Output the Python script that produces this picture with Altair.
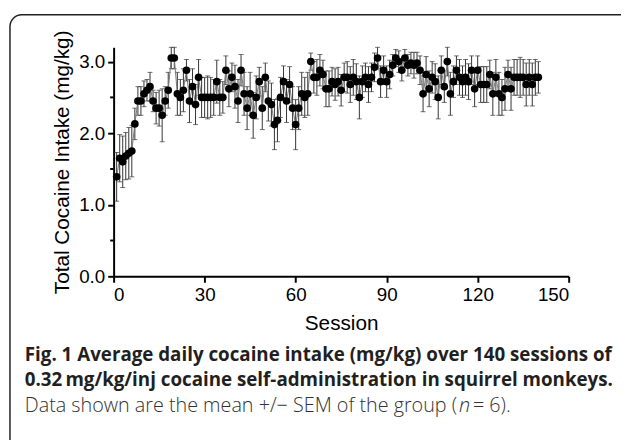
import altair as alt
import pandas as pd

sessions = list(range(1, 141))
intake = [
    1.39, 1.65, 1.60, 1.68, 1.72, 1.75, 2.13, 2.45, 2.45, 2.55,
    2.60, 2.65, 2.45, 2.35, 2.35, 2.25, 2.45, 2.60, 3.05, 3.05,
    2.55, 2.50, 2.60, 2.88, 2.45, 2.65, 2.40, 2.78, 2.50, 2.50,
    2.50, 2.50, 2.50, 2.72, 2.50, 2.50, 2.88, 2.62, 2.78, 2.65,
    2.45, 2.88, 2.55, 2.35, 2.55, 2.25, 2.50, 2.72, 2.35, 2.78,
    2.45, 2.40, 2.12, 2.18, 2.50, 2.72, 2.45, 2.68, 2.35, 2.12,
    2.35, 2.55, 2.50, 2.55, 3.00, 2.78, 2.78, 2.88, 2.82, 2.62,
    2.62, 2.72, 2.68, 2.72, 2.60, 2.78, 2.78, 2.68, 2.78, 2.72,
    2.50, 2.72, 2.78, 2.68, 2.78, 2.92, 3.05, 2.72, 2.88, 2.72,
    2.82, 2.95, 3.05, 3.00, 2.88, 3.05, 2.95, 2.98, 2.95, 2.98,
    2.88, 2.55, 2.82, 2.62, 2.78, 2.72, 2.50, 2.88, 2.65, 3.00,
    2.55, 2.72, 2.88, 2.78, 2.72, 2.78, 2.72, 2.88, 2.62, 2.88,
    2.68, 2.68, 2.68, 2.82, 2.55, 2.78, 2.55, 2.50, 2.62, 2.82,
    2.62, 2.78, 2.78, 2.78, 2.78, 2.68, 2.78, 2.68, 2.78, 2.78,
]
sem = [
    0.34, 0.33, 0.36, 0.33, 0.36, 0.36, 0.22, 0.20, 0.20, 0.18,
    0.15, 0.20, 0.15, 0.22, 0.25, 0.37, 0.20, 0.25, 0.15, 0.15,
    0.30, 0.25, 0.30, 0.15, 0.30, 0.25, 0.28, 0.25, 0.28, 0.28,
    0.30, 0.28, 0.25, 0.30, 0.25, 0.22, 0.20, 0.25, 0.20, 0.30,
    0.30, 0.22, 0.30, 0.30, 0.30, 0.32, 0.30, 0.20, 0.30, 0.20,
    0.28, 0.30, 0.35, 0.30, 0.28, 0.22, 0.30, 0.25, 0.30, 0.35,
    0.30, 0.30, 0.28, 0.30, 0.12, 0.22, 0.25, 0.22, 0.20, 0.25,
    0.25, 0.20, 0.22, 0.20, 0.22, 0.20, 0.22, 0.25, 0.25, 0.25,
    0.30, 0.22, 0.20, 0.25, 0.20, 0.20, 0.15, 0.22, 0.20, 0.22,
    0.20, 0.15, 0.12, 0.15, 0.15, 0.12, 0.15, 0.15, 0.18, 0.15,
    0.20, 0.25, 0.25, 0.25, 0.22, 0.25, 0.30, 0.20, 0.22, 0.20,
    0.30, 0.22, 0.20, 0.25, 0.22, 0.25, 0.25, 0.20, 0.25, 0.20,
    0.25, 0.25, 0.25, 0.20, 0.30, 0.25, 0.30, 0.25, 0.30, 0.20,
    0.30, 0.25, 0.25, 0.28, 0.25, 0.30, 0.25, 0.30, 0.25, 0.22,
]
x_ticks = [0, 30, 60, 90, 120, 150]
y_ticks = [0, 1, 2, 3]
y_minor = [0.5, 1.5, 2.5]

caption_lines = [
    "Fig. 1 Average daily cocaine intake (mg/kg) over 140 sessions of",
    "0.32\u2009mg/kg/inj cocaine self-administration in squirrel monkeys.",
]
caption_note = ["Data shown are the mean +/\u2212 SEM of the group (", "n", " = 6)."]

df = pd.DataFrame({"session": sessions, "intake": intake, "sem": sem})
df["lo"] = df["intake"] - df["sem"]
df["hi"] = df["intake"] + df["sem"]

W, H = 461, 232
FONT = "Liberation Sans"
CAP_FONT = "Open Sans"

xscale = alt.Scale(domain=[0, 150], nice=False, zero=False)
yscale = alt.Scale(domain=[0, 3.2], nice=False, zero=False)
xaxis = alt.Axis(values=x_ticks, title="Session", format="d")
yaxis = alt.Axis(values=y_ticks, title="Total Cocaine Intake (mg/kg)", format=".1f")

X = alt.X("session:Q", scale=xscale, axis=xaxis)

base = alt.Chart(df)

errbars = base.mark_errorbar(ticks=alt.MarkConfig(size=5, color="#333", strokeWidth=1), color="#333", thickness=1).encode(
    x=X,
    y=alt.Y("lo:Q", scale=yscale, axis=yaxis),
    y2="hi:Q",
)

line = base.mark_line(color="#777", strokeWidth=1).encode(
    x=X, y=alt.Y("intake:Q", scale=yscale, axis=yaxis)
)

points = base.mark_circle(size=60, color="black", opacity=1).encode(
    x=X, y=alt.Y("intake:Q", scale=yscale, axis=yaxis)
)

minor = alt.Chart(pd.DataFrame({"v": y_minor})).mark_rule(color="black", strokeWidth=2).encode(
    y=alt.Y("v:Q", scale=yscale, axis=yaxis),
    x=alt.value(-3.5),
    x2=alt.value(0),
)


def text_layer(t, x, y, weight, size=18, style="normal", color="#231f20"):
    return alt.Chart(pd.DataFrame({"t": [t]})).mark_text(
        align="left", baseline="alphabetic", font=CAP_FONT, fontWeight=weight,
        fontStyle=style, fontSize=size, color=color
    ).encode(text="t:N", x=alt.value(x), y=alt.value(y))


cap1 = text_layer(caption_lines[0], -90, 318, "bold", size=19)
cap2 = text_layer(caption_lines[1], -90, 343, "bold", size=19)
note_a = text_layer(caption_note[0], -90, 369, 300, size=20, color="#333")
note_b = text_layer(caption_note[1], 350, 369, 300, size=20, style="italic", color="#333")
note_c = text_layer(caption_note[2], 364, 369, 300, size=20, color="#333")

frame = alt.Chart(pd.DataFrame({"k": [0]})).mark_rect(
    cornerRadius=12, fillOpacity=0, stroke="#222", strokeWidth=1.5
).encode(
    x=alt.value(-105), x2=alt.value(560), y=alt.value(-33), y2=alt.value(430)
)

chart = alt.layer(frame, errbars, line, points, minor, cap1, cap2, note_a, note_b, note_c).properties(
    width=W,
    height=H,
    autosize=alt.AutoSizeParams(type="none"),
    padding={"left": 107, "top": 37, "right": 53, "bottom": 163},
    background="white",
).configure_view(stroke=None).configure_axis(
    grid=False,
    domainColor="black",
    domainWidth=2,
    tickColor="black",
    tickWidth=2,
    tickSize=6,
    labelFont=FONT,
    labelFontSize=19,
    labelColor="black",
    labelPadding=3,
    titleFont=FONT,
    titleFontSize=21,
    titleFontWeight="normal",
    titleColor="black",
    titlePadding=6,
).configure_axisX(
    labelPadding=4,
    titlePadding=8,
)

chart.save("out.html", embed_options={"renderer": "svg", "actions": False})
